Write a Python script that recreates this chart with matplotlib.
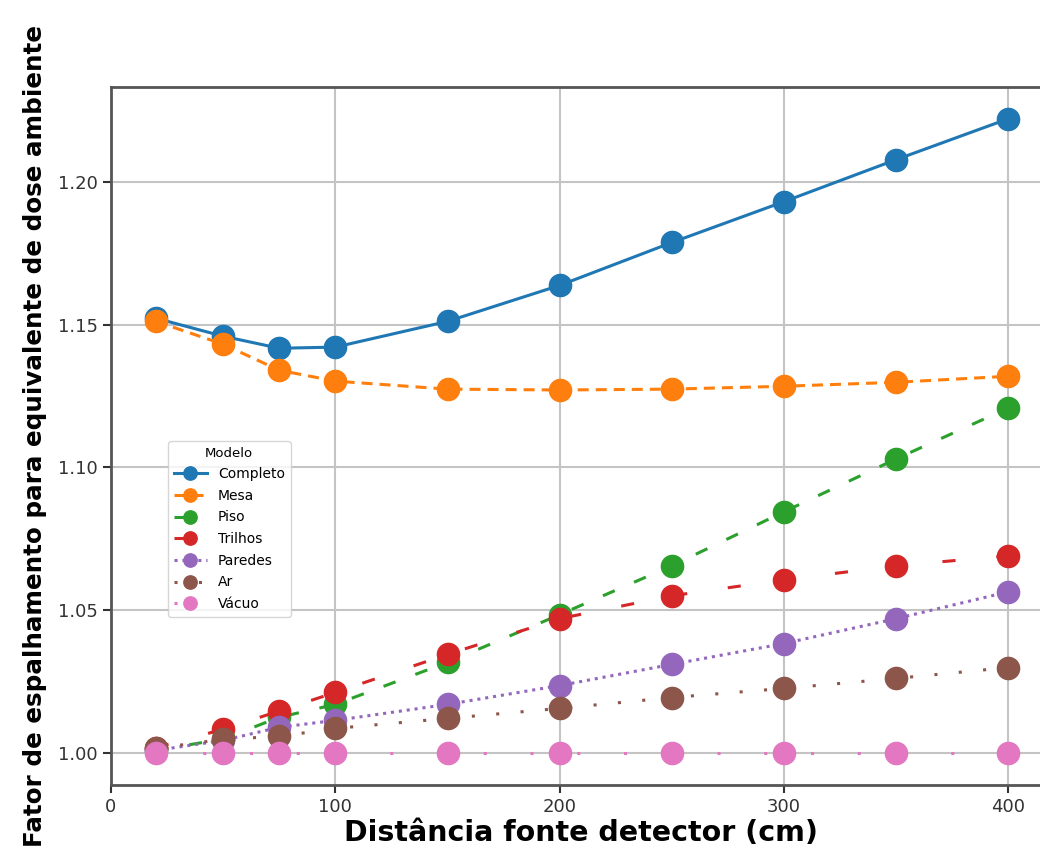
import numpy as np
import matplotlib.pyplot as plt

# distancias fonte-detector (cm)
dist = [20, 50, 75, 100, 150, 200, 250, 300, 350, 400]

completo = [1.1522, 1.1459, 1.1417, 1.1421, 1.1511, 1.1637, 1.1787, 1.1930, 1.2077, 1.2220]
mesa     = [1.1511, 1.1431, 1.1340, 1.1302, 1.1274, 1.1271, 1.1274, 1.1284, 1.1298, 1.1319]
piso     = [1.0010, 1.0050, 1.0126, 1.0171, 1.0318, 1.0485, 1.0656, 1.0845, 1.1030, 1.1208]
trilhos  = [1.0020, 1.0084, 1.0148, 1.0213, 1.0346, 1.0471, 1.0551, 1.0607, 1.0656, 1.0691]
paredes  = [1.0010, 1.0045, 1.0091, 1.0115, 1.0171, 1.0237, 1.0311, 1.0384, 1.0471, 1.0565]
ar       = [1.0017, 1.0049, 1.0059, 1.0087, 1.0122, 1.0157, 1.0195, 1.0227, 1.0262, 1.0300]
vacuo    = [1.0000, 1.0000, 1.0000, 1.0000, 1.0000, 1.0000, 1.0000, 1.0000, 1.0000, 1.0000]

nomes = ["Completo", "Mesa", "Piso", "Trilhos", "Paredes", "Ar", "Vácuo"]
series = [completo, mesa, piso, trilhos, paredes, ar, vacuo]
cores = ["#1f77b4", "#ff7f0e", "#2ca02c", "#d62728", "#9467bd", "#8c564b", "#e377c2"]
estilos = ["-", (0, (3.6, 2.3)), (0, (4.2, 6.9)), (0, (4.3, 13.4)),
           (0, (1.0, 1.6)), (0, (1.0, 7.0)), (0, (1.0, 14.3))]

fig = plt.figure(figsize=(10.4, 8.57), dpi=100)
ax = fig.add_axes([111/1040, 72/857, 940/1040, 698/857])

for nome, y, c, ls in zip(nomes, series, cores, estilos):
    ax.plot(dist, y, color=c, linestyle=ls, linewidth=2.2, marker="o",
            markersize=16, label=nome)

ax.set_xlim(0, 419)
ax.margins(y=0.05)
ax.set_xticks([0, 100, 200, 300, 400])
ax.set_yticks([1.00, 1.05, 1.10, 1.15, 1.20])
ax.set_yticklabels(["1.00", "1.05", "1.10", "1.15", "1.20"])
ax.grid(True, color="#c4c4c4", linewidth=1.5)
ax.set_axisbelow(True)
for s in ax.spines.values():
    s.set_color("#555555")
    s.set_linewidth(2)
ax.tick_params(labelsize=13, length=6, width=1.5, colors="#333333", labelcolor="#333333")

ax.set_xlabel("Distância fonte detector (cm)", fontsize=20.5, fontweight="bold", labelpad=2)
ax.set_ylabel("Fator de espalhamento para equivalente de dose ambiente",
              fontsize=17.7, fontweight="bold", labelpad=8)

leg = ax.legend(title="Modelo", fontsize=10, title_fontsize=9.5, markerscale=0.6,
                loc="upper left", bbox_to_anchor=(168/1040, 1 - 441/857),
                bbox_transform=fig.transFigure, borderaxespad=0,
                frameon=True, labelspacing=0.55, handlelength=2.4)

fig.savefig("out.png", dpi=100)
